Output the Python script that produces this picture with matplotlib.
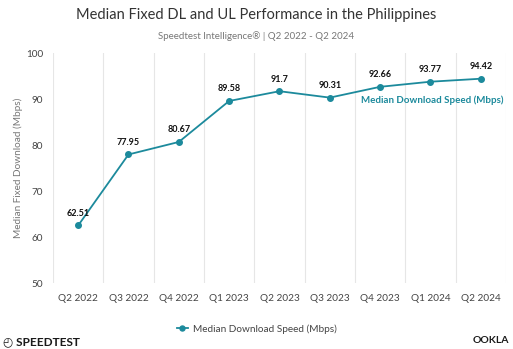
import numpy as np
import matplotlib.pyplot as plt

quarters = ['Q2 2022', 'Q3 2022', 'Q4 2022', 'Q1 2023', 'Q2 2023',
            'Q3 2023', 'Q4 2023', 'Q1 2024', 'Q2 2024']
download = [62.51, 77.95, 80.67, 89.58, 91.7, 90.31, 92.66, 93.77, 94.42]

teal = '#1c8a9c'
plt.rcParams['font.family'] = ['Lato', 'DejaVu Sans']

fig = plt.figure(figsize=(5.13, 3.49), dpi=100)
ax = fig.add_axes([0.1033, 0.189, 0.883, 0.659])

x = np.arange(len(quarters))
ax.plot(x, download, color=teal, lw=1.3, marker='o', ms=4,
        label='Median Download Speed (Mbps)')

for xi, v in zip(x, download):
    ax.annotate(f'{v:g}', (xi, v), xytext=(0, 5.5), textcoords='offset points',
                ha='center', va='bottom', fontsize=6.5, fontweight='bold',
                color='#111111')

# series name next to the end of the line
ax.text(len(quarters) - 0.54, 89.8, 'Median Download Speed (Mbps)', ha='right',
        va='center', fontsize=7, fontweight='bold', color=teal)

ax.set_xlim(-0.5, len(quarters) - 0.5)
ax.set_ylim(50, 100)
ax.set_yticks([50, 60, 70, 80, 90, 100])
ax.set_xticks(x)
ax.set_xticklabels(quarters)
ax.set_xticks(np.arange(-0.5, len(quarters)), minor=True)
ax.grid(True, which='minor', axis='x', color='#e6e6e6', lw=0.8)
ax.tick_params(which='both', length=0)
ax.tick_params(axis='both', labelsize=7.2, colors='#444444')
ax.tick_params(axis='x', pad=8)
ax.tick_params(axis='y', pad=7)
for s in ax.spines.values():
    s.set_visible(False)
ax.set_ylabel('Median Fixed Download (Mbps)', fontsize=7.2, color='#777777',
              labelpad=2)

fig.text(0.5, 0.957, 'Median Fixed DL and UL Performance in the Philippines',
         ha='center', va='center', fontsize=10.5, color='#333333')
fig.text(0.5, 0.897, 'Speedtest Intelligence\u00ae | Q2 2022 - Q2 2024',
         ha='center', va='center', fontsize=7, color='#777777')

fig.legend(loc='center', bbox_to_anchor=(0.5, 0.058), frameon=False,
           fontsize=7.2, labelcolor='#444444', handlelength=1.1,
           handletextpad=0.5, markerscale=0.9)

fig.text(0.006, 0.022, '\u25f4 SPEEDTEST', ha='left', va='center', fontsize=8.5,
         fontweight='bold', color='#1a1a1a')
fig.text(0.993, 0.025, 'OOKLA', ha='right', va='center', fontsize=7.5,
         fontweight='bold', color='#1a1a1a')

fig.savefig('out.png', dpi=100)
